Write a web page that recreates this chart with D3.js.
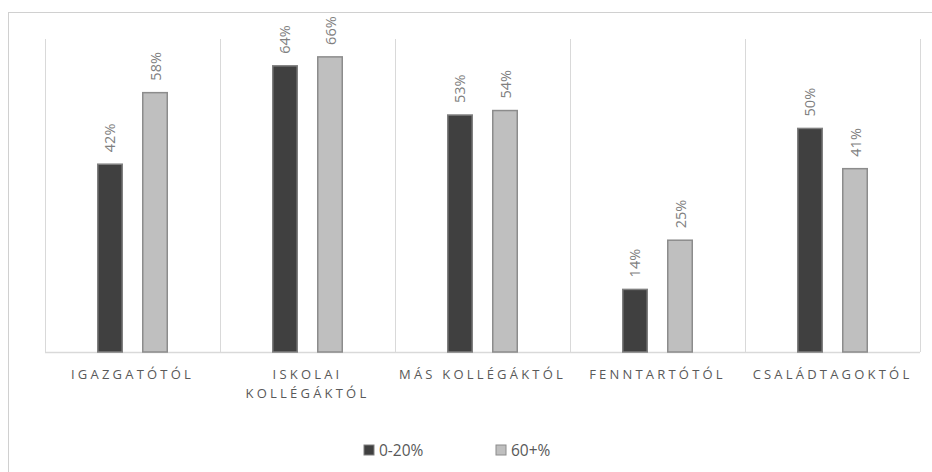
<!DOCTYPE html>
<html>
<head>
<meta charset="utf-8">
<script src="https://cdn.jsdelivr.net/npm/d3@7"></script>
<style>
    html, body { margin: 0; background: #fff; overflow: hidden; }
    svg { display: block; }
    text { font-family: "Open Sans", sans-serif; }
</style>
</head>
<body>
<div id="chart"></div>
<script>
// chart data
const categories = ["IGAZGATÓTÓL", "ISKOLAI KOLLÉGÁKTÓL", "MÁS KOLLÉGÁKTÓL", "FENNTARTÓTÓL", "CSALÁDTAGOKTÓL"];
const seriesNames = ["0-20%", "60+%"];
const low = [0.42, 0.64, 0.53, 0.14, 0.50];
const high = [0.58, 0.66, 0.54, 0.25, 0.41];
const seriesValues = [low, high];
const fills = ["#404040", "#bfbfbf"];
const strokes = ["#7f7f7f", "#8c8c8c"];

const width = 932, height = 472;
const plot = { left: 45, right: 920, top: 39, bottom: 352 };

const svg = d3.select("#chart").append("svg")
    .attr("width", width)
    .attr("height", height);

// outer frame
svg.append("rect")
    .attr("x", 8.5).attr("y", 12.5)
    .attr("width", width).attr("height", height)
    .attr("fill", "none")
    .attr("stroke", "#d0d0d0");

const x = d3.scaleBand()
    .domain(categories)
    .range([plot.left, plot.right]);

const bw = x.bandwidth();
const x1 = d3.scaleBand()
    .domain(seriesNames)
    .range([bw / 2 - 34.75, bw / 2 + 34.75])
    .paddingInner(0.456);

const y = d3.scaleLinear()
    .domain([0, 0.7])
    .range([plot.bottom, plot.top]);

// vertical separators between categories
const edges = categories.map(c => x(c)).concat([plot.right]);
svg.append("g")
    .selectAll("line")
    .data(edges)
    .join("line")
    .attr("x1", d => Math.round(d) + 0.5)
    .attr("x2", d => Math.round(d) + 0.5)
    .attr("y1", plot.top)
    .attr("y2", plot.bottom)
    .attr("stroke", "#d9d9d9");

// baseline
svg.append("line")
    .attr("x1", plot.left).attr("x2", plot.right)
    .attr("y1", plot.bottom + 0.5).attr("y2", plot.bottom + 0.5)
    .attr("stroke", "#d9d9d9")
    .attr("stroke-width", 1.5);

// bars
const rows = [];
categories.forEach((c, i) => {
    seriesNames.forEach((s, j) => {
        rows.push({ cat: c, series: s, idx: j, value: seriesValues[j][i] });
    });
});

const groups = svg.append("g");

groups.selectAll("rect")
    .data(rows)
    .join("rect")
    .attr("x", d => x(d.cat) + x1(d.series))
    .attr("y", d => y(d.value))
    .attr("width", x1.bandwidth())
    .attr("height", d => y(0) - y(d.value))
    .attr("fill", d => fills[d.idx])
    .attr("stroke", d => strokes[d.idx])
    .attr("stroke-width", 1.5);

// value labels, rotated
groups.selectAll("text")
    .data(rows)
    .join("text")
    .attr("transform", d => {
        const cx = x(d.cat) + x1(d.series) + x1.bandwidth() / 2 + 5.5;
        const cy = y(d.value) - 12;
        return "translate(" + cx + "," + cy + ") rotate(-90)";
    })
    .attr("font-size", 14.5)
    .attr("fill", "#7f7f7f")
    .text(d => Math.round(d.value * 100) + "%");

// category labels with wrap
const labelG = svg.append("g");
categories.forEach(c => {
    const t = labelG.append("text")
        .attr("x", x(c) + bw / 2)
        .attr("y", 379)
        .attr("text-anchor", "middle")
        .attr("font-size", 13)
        .attr("letter-spacing", "3.2px")
        .attr("fill", "#595959");
    const words = c.split(" ");
    let line = [];
    let tspan = t.append("tspan").attr("x", x(c) + bw / 2).attr("dy", 0);
    words.forEach(w => {
        line.push(w);
        tspan.text(line.join(" "));
        if (tspan.node().getComputedTextLength() > bw - 8 && line.length > 1) {
            line.pop();
            tspan.text(line.join(" "));
            line = [w];
            tspan = t.append("tspan").attr("x", x(c) + bw / 2).attr("dy", 19).text(w);
        }
    });
});

// legend
const legendX = [364, 496];
const legend = svg.append("g");
seriesNames.forEach((s, j) => {
    legend.append("rect")
        .attr("x", legendX[j]).attr("y", 445)
        .attr("width", 10).attr("height", 10)
        .attr("fill", fills[j])
        .attr("stroke", strokes[j]);
    legend.append("text")
        .attr("x", legendX[j] + 15)
        .attr("y", 456)
        .attr("font-size", 15.5)
        .attr("fill", "#595959")
        .text(s);
});
</script>
</body>
</html>
